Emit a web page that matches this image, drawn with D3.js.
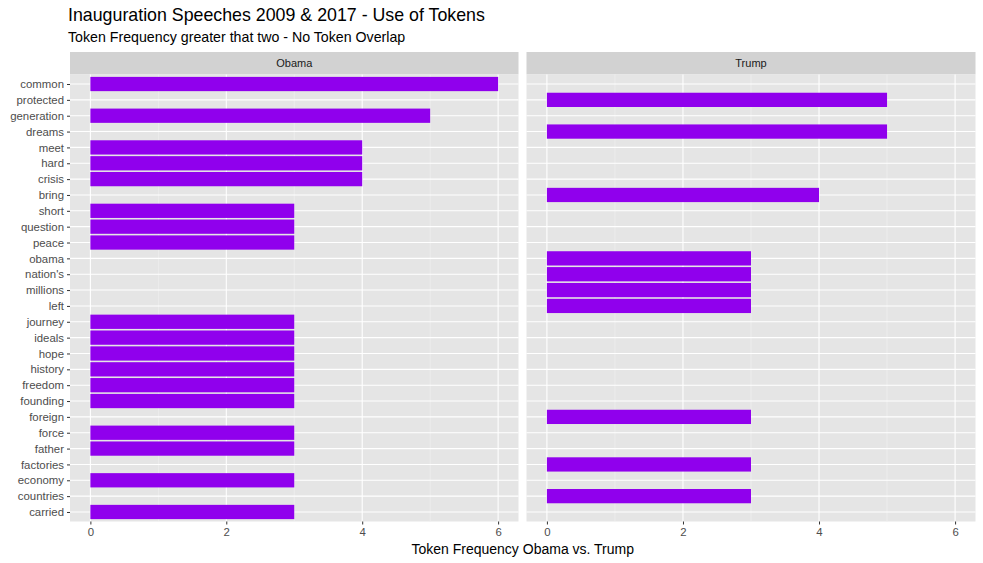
<!DOCTYPE html>
<html>
<head>
<meta charset="utf-8">
<script src="https://cdn.jsdelivr.net/npm/d3@7"></script>
<style>
  body { margin: 0; background: #fff; }
  text { font-family: "Liberation Sans", Arial, sans-serif; }
</style>
</head>
<body>
<script>
// tokens, top to bottom
const tokens = ["common", "protected", "generation", "dreams", "meet", "hard", "crisis", "bring",
  "short", "question", "peace", "obama", "nation's", "millions", "left", "journey", "ideals",
  "hope", "history", "freedom", "founding", "foreign", "force", "father", "factories",
  "economy", "countries", "carried"];

const obamaTokens = ["common", "generation", "meet", "hard", "crisis", "short", "question", "peace",
  "journey", "ideals", "hope", "history", "freedom", "founding", "force", "father", "economy", "carried"];
const obamaCounts = [6, 5, 4, 4, 4, 3, 3, 3, 3, 3, 3, 3, 3, 3, 3, 3, 3, 3];

const trumpTokens = ["protected", "dreams", "bring", "obama", "nation's", "millions", "left",
  "foreign", "factories", "countries"];
const trumpCounts = [5, 5, 4, 3, 3, 3, 3, 3, 3, 3];

const panels = ["Obama", "Trump"];
const xTicks = [0, 2, 4, 6];

const W = 983, H = 563;
const svg = d3.select("body").append("svg").attr("width", W).attr("height", H);

// title + subtitle
svg.append("text").attr("x", 68).attr("y", 21).attr("font-size", 17.8).attr("fill", "#000")
  .text("Inauguration Speeches 2009 & 2017 - Use of Tokens");
svg.append("text").attr("x", 68).attr("y", 42).attr("font-size", 14.2).attr("fill", "#000")
  .text("Token Frequency greater that two - No Token Overlap");

const stripTop = 52, plotTop = 74.5, plotBottom = 521.5;
const panelX = [[70, 518.5], [526.5, 975.5]];

// discrete y scale with ggplot-like 0.6 expansion
const y = d3.scalePoint().domain(tokens).range([plotTop, plotBottom]).padding(0.6);
const barH = y.step() * 0.9;

const data = {
  Obama: obamaTokens.map((t, i) => ({ token: t, n: obamaCounts[i] })),
  Trump: trumpTokens.map((t, i) => ({ token: t, n: trumpCounts[i] }))
};

panels.forEach((p, pi) => {
  const [x0, x1] = panelX[pi];
  const x = d3.scaleLinear().domain([-0.3, 6.3]).range([x0, x1]);
  const g = svg.append("g");

  // strip
  g.append("rect").attr("x", x0).attr("y", stripTop).attr("width", x1 - x0).attr("height", plotTop - stripTop)
    .attr("fill", "#d2d2d2");
  g.append("text").attr("x", (x0 + x1) / 2).attr("y", (stripTop + plotTop) / 2 + 4)
    .attr("text-anchor", "middle").attr("font-size", 11).attr("fill", "#1a1a1a").text(p);

  // panel background
  g.append("rect").attr("x", x0).attr("y", plotTop).attr("width", x1 - x0).attr("height", plotBottom - plotTop)
    .attr("fill", "#e5e5e5");

  // minor x grid
  [1, 3, 5].forEach(v => {
    g.append("line").attr("x1", x(v)).attr("x2", x(v)).attr("y1", plotTop).attr("y2", plotBottom)
      .attr("stroke", "#f2f2f2").attr("stroke-width", 0.6);
  });
  // major x grid
  xTicks.forEach(v => {
    g.append("line").attr("x1", x(v)).attr("x2", x(v)).attr("y1", plotTop).attr("y2", plotBottom)
      .attr("stroke", "#fff").attr("stroke-width", 1.1);
  });
  // y grid
  tokens.forEach(t => {
    g.append("line").attr("x1", x0).attr("x2", x1).attr("y1", y(t)).attr("y2", y(t))
      .attr("stroke", "#fff").attr("stroke-width", 1.1);
  });

  // bars
  g.selectAll(".bar").data(data[p]).enter().append("rect")
    .attr("class", "bar")
    .attr("x", x(0))
    .attr("y", d => y(d.token) - barH / 2)
    .attr("width", d => x(d.n) - x(0))
    .attr("height", barH)
    .attr("fill", "#9000ed");

  // x axis
  const ax = g.append("g").attr("transform", `translate(0,${plotBottom})`)
    .call(d3.axisBottom(x).tickValues(xTicks).tickFormat(d3.format("d")).tickSize(3).tickPadding(3));
  ax.select(".domain").remove();
  ax.selectAll("line").attr("stroke", "#333");
  ax.selectAll("text").attr("font-size", 11.4).attr("fill", "#4d4d4d")
    .attr("font-family", "'Liberation Sans', Arial, sans-serif");
});

// y axis (left panel only)
const ay = svg.append("g").attr("transform", `translate(${panelX[0][0]},0)`)
  .call(d3.axisLeft(y).tickSize(3).tickPadding(3));
ay.select(".domain").remove();
ay.selectAll("line").attr("stroke", "#333");
ay.selectAll("text").attr("font-size", 11.4).attr("fill", "#4d4d4d")
  .attr("font-family", "'Liberation Sans', Arial, sans-serif");

// x axis title
svg.append("text").attr("x", (panelX[0][0] + panelX[1][1]) / 2).attr("y", 554)
  .attr("text-anchor", "middle").attr("font-size", 14).attr("fill", "#000")
  .text("Token Frequency Obama vs. Trump");
</script>
</body>
</html>
